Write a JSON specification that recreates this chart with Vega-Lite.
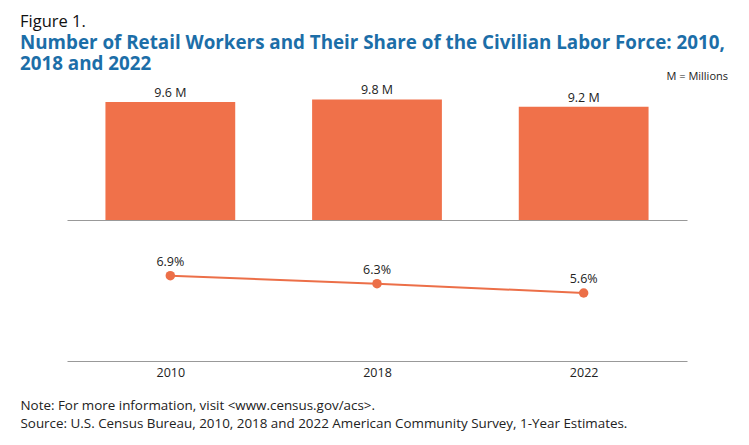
{
  "$schema": "https://vega.github.io/schema/vega-lite/v6.json",
  "padding": {"left": 20, "top": 14, "right": 0, "bottom": 12},
  "background": "white",
  "title": {
    "text": "Figure 1.",
    "subtitle": ["Number of Retail Workers and Their Share of the Civilian Labor Force: 2010,", "2018 and 2022"],
    "anchor": "start",
    "frame": "bounds",
    "font": "Open Sans",
    "fontSize": 16.5,
    "fontWeight": "normal",
    "color": "#111111",
    "subtitleFont": "Open Sans",
    "subtitleFontSize": 18.8,
    "subtitleFontWeight": "bold",
    "subtitleColor": "#1c6ea8",
    "subtitleLineHeight": 21,
    "subtitlePadding": 3,
    "offset": -2
  },
  "data": {
    "values": [
      {"year": "2010", "workers": 9.6, "workersLabel": "9.6 M", "share": 6.9, "shareLabel": "6.9%"},
      {"year": "2018", "workers": 9.8, "workersLabel": "9.8 M", "share": 6.3, "shareLabel": "6.3%"},
      {"year": "2022", "workers": 9.2, "workersLabel": "9.2 M", "share": 5.6, "shareLabel": "5.6%"}
    ]
  },
  "bounds": "flush",
  "spacing": 41,
  "vconcat": [
    {
      "width": 620,
      "height": 123,
      "title": {
        "text": "M = Millions",
        "anchor": "end",
        "font": "Open Sans",
        "fontSize": 11,
        "fontWeight": "normal",
        "color": "#222222",
        "dx": 41,
        "offset": 2
      },
      "encoding": {
        "x": {
          "field": "year",
          "type": "nominal",
          "scale": {"paddingInner": 0.372, "paddingOuter": 0.186},
          "axis": {"title": null, "labels": false, "ticks": false, "domainColor": "#999999", "domainWidth": 1.2}
        },
        "y": {
          "field": "workers",
          "type": "quantitative",
          "scale": {"domain": [0, 10], "nice": false},
          "axis": null
        }
      },
      "layer": [
        {"mark": {"type": "bar", "color": "#f0714a"}},
        {
          "mark": {"type": "text", "dy": -9, "font": "Open Sans", "fontSize": 12.5, "color": "#222222"},
          "encoding": {"text": {"field": "workersLabel"}}
        }
      ]
    },
    {
      "width": 620,
      "height": 100,
      "encoding": {
        "x": {
          "field": "year",
          "type": "nominal",
          "scale": {"paddingInner": 0.372, "paddingOuter": 0.186},
          "axis": {
            "labelAngle": 0,
            "labelFont": "Open Sans",
            "labelFontSize": 12.5,
            "labelColor": "#222222",
            "labelPadding": 5,
            "ticks": false,
            "domainColor": "#999999",
            "domainWidth": 1.2,
            "title": ["Note: For more information, visit <www.census.gov/acs>.", "Source: U.S. Census Bureau, 2010, 2018 and 2022 American Community Survey, 1-Year Estimates."],
            "titleFont": "Open Sans",
            "titleFontSize": 13.4,
            "titleFontWeight": "normal",
            "titleColor": "#222222",
            "titleAnchor": "start",
            "titleAlign": "left",
            "titleX": -47,
            "titleLineHeight": 18,
            "titlePadding": 20
          }
        },
        "y": {
          "field": "share",
          "type": "quantitative",
          "scale": {"domain": [0.5, 8], "nice": false, "zero": false},
          "axis": null
        }
      },
      "layer": [
        {"mark": {"type": "line", "color": "#ec6f48", "strokeWidth": 2}},
        {"mark": {"type": "point", "filled": true, "opacity": 1, "color": "#ec6f48", "size": 90}},
        {
          "mark": {"type": "text", "dy": -14, "font": "Open Sans", "fontSize": 12.5, "color": "#222222"},
          "encoding": {"text": {"field": "shareLabel"}}
        }
      ]
    }
  ],
  "config": {
    "view": {"stroke": null},
    "font": "Open Sans"
  }
}
